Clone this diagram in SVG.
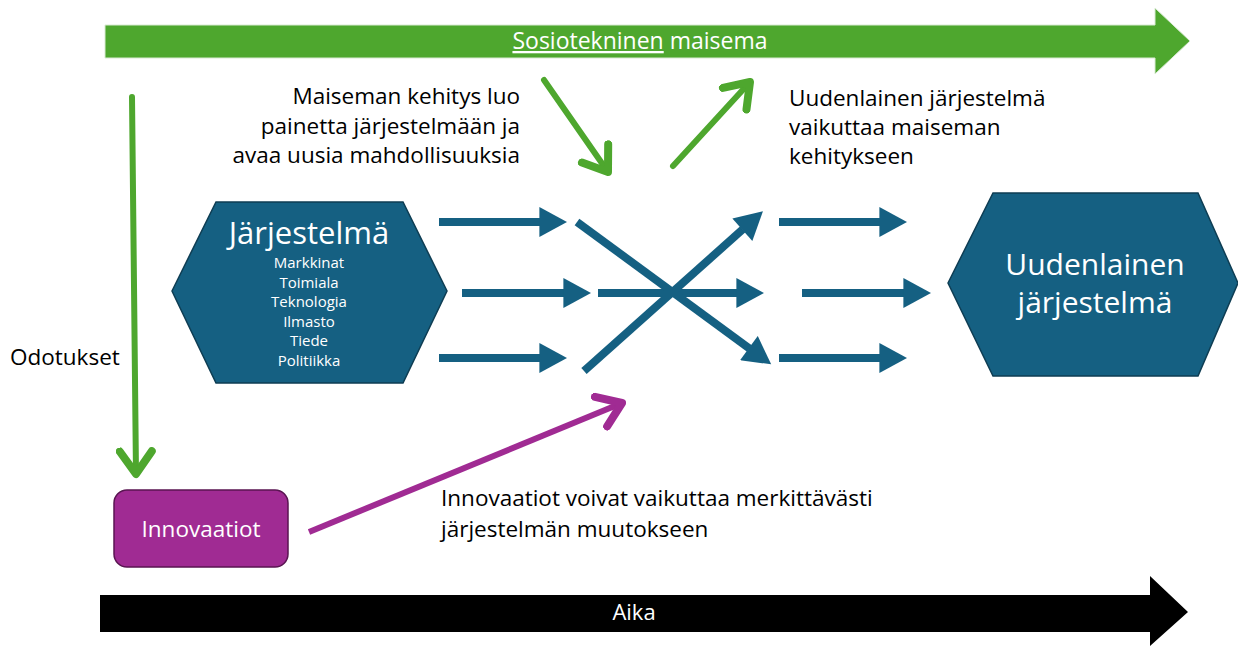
<svg xmlns="http://www.w3.org/2000/svg" width="1238" height="646" viewBox="0 0 1238 646">
<style>
.lbl{font-family:"Open Sans","Liberation Sans",sans-serif;font-size:22.5px;fill:#000}
.wt{font-family:"Open Sans","Liberation Sans",sans-serif;fill:#fff}
.blue{stroke:#156082;stroke-width:8;fill:none}
.grn{stroke:#4EA72E;stroke-width:6;fill:none;stroke-linecap:round}
.hex{fill:#156082;stroke:#0E3D53;stroke-width:1.5}
</style>
<defs>
<marker id="bh" markerUnits="userSpaceOnUse" markerWidth="30" markerHeight="30" refX="0.5" refY="12.5" orient="auto" viewBox="0 0 23 25">
<path d="M0,0 L23,12.5 L0,25 Z" fill="#156082"/>
</marker>
<marker id="gh" markerUnits="userSpaceOnUse" markerWidth="40" markerHeight="40" refX="20" refY="15" orient="auto" viewBox="0 0 30 30">
<path d="M3,3 L20,15 L3,27" fill="none" stroke="#4EA72E" stroke-width="6" stroke-linecap="round" stroke-linejoin="round"/>
</marker>
<marker id="ph" markerUnits="userSpaceOnUse" markerWidth="40" markerHeight="40" refX="20" refY="15" orient="auto" viewBox="0 0 30 30">
<path d="M3,3 L20,15 L3,27" fill="none" stroke="#A02B93" stroke-width="6" stroke-linecap="round" stroke-linejoin="round"/>
</marker>
</defs>

<g id="maisema">
<path d="M105,25 H1155 V8 L1190,41 L1155,74 V58 H105 Z" fill="#4EA72E" stroke="#d9ead3" stroke-width="1"/>
<text class="wt" x="640" y="49" font-size="23" text-anchor="middle"><tspan style="text-decoration:underline">Sosiotekninen</tspan> maisema</text>
</g>

<g id="aika">
<path d="M100,595 H1150 V576 L1188,612 L1150,646 V632 H100 Z" fill="#000"/>
<text class="wt" x="634" y="620" font-size="22" text-anchor="middle">Aika</text>
</g>

<g id="jarjestelma">
<polygon class="hex" points="172,291 216,202 403,202 447,291 403,383 216,383"/>
<text class="wt" x="309" y="244" font-size="31" text-anchor="middle">Järjestelmä</text>
<g class="wt" font-size="15" text-anchor="middle">
<text x="309" y="268">Markkinat</text>
<text x="309" y="288">Toimiala</text>
<text x="309" y="307">Teknologia</text>
<text x="309" y="327">Ilmasto</text>
<text x="309" y="346">Tiede</text>
<text x="309" y="366">Politiikka</text>
</g>
</g>

<g id="uudenlainen">
<polygon class="hex" points="948,283 993,193 1198,193 1238,283 1198,376 993,376"/>
<text class="wt" x="1095" y="275" font-size="30" text-anchor="middle">Uudenlainen</text>
<text class="wt" x="1095" y="313" font-size="30" text-anchor="middle">järjestelmä</text>
</g>

<g id="innovaatiot">
<rect x="114" y="490" width="174" height="77" rx="13" fill="#A02B93" stroke="#5A1552" stroke-width="1.5"/>
<text class="wt" x="201" y="537" font-size="22.5" text-anchor="middle">Innovaatiot</text>
</g>

<g id="connectors">
<line class="blue" x1="439" y1="222" x2="540" y2="222" marker-end="url(#bh)"/>
<line class="blue" x1="462" y1="293" x2="564" y2="293" marker-end="url(#bh)"/>
<line class="blue" x1="439" y1="358" x2="540" y2="358" marker-end="url(#bh)"/>
<line class="blue" x1="598" y1="293" x2="737" y2="293" marker-end="url(#bh)"/>
<line class="blue" x1="577" y1="222" x2="749.4" y2="348.4" marker-end="url(#bh)"/>
<line class="blue" x1="584" y1="371" x2="742.8" y2="229.3" marker-end="url(#bh)"/>
<line class="blue" x1="779" y1="222" x2="880" y2="222" marker-end="url(#bh)"/>
<line class="blue" x1="802" y1="293" x2="904" y2="293" marker-end="url(#bh)"/>
<line class="blue" x1="779" y1="358" x2="880" y2="358" marker-end="url(#bh)"/>
<line class="grn" x1="132" y1="97" x2="136" y2="474" stroke-width="5" marker-end="url(#gh)"/>
<line class="grn" x1="544" y1="80" x2="608" y2="172" marker-end="url(#gh)"/>
<line class="grn" x1="673" y1="166" x2="750" y2="82" marker-end="url(#gh)"/>
<line x1="309" y1="532" x2="622" y2="403" stroke="#A02B93" stroke-width="6" marker-end="url(#ph)"/>
</g>

<g id="labels">
<text class="lbl" x="520" y="104" text-anchor="end">Maiseman kehitys luo</text>
<text class="lbl" x="520" y="134" text-anchor="end">painetta järjestelmään ja</text>
<text class="lbl" x="520" y="163" text-anchor="end">avaa uusia mahdollisuuksia</text>
<text class="lbl" x="789" y="106">Uudenlainen järjestelmä</text>
<text class="lbl" x="789" y="135">vaikuttaa maiseman</text>
<text class="lbl" x="789" y="164">kehitykseen</text>
<text class="lbl" x="441" y="506">Innovaatiot voivat vaikuttaa merkittävästi</text>
<text class="lbl" x="441" y="537">järjestelmän muutokseen</text>
<text class="lbl" x="10" y="365">Odotukset</text>
</g>
</svg>
